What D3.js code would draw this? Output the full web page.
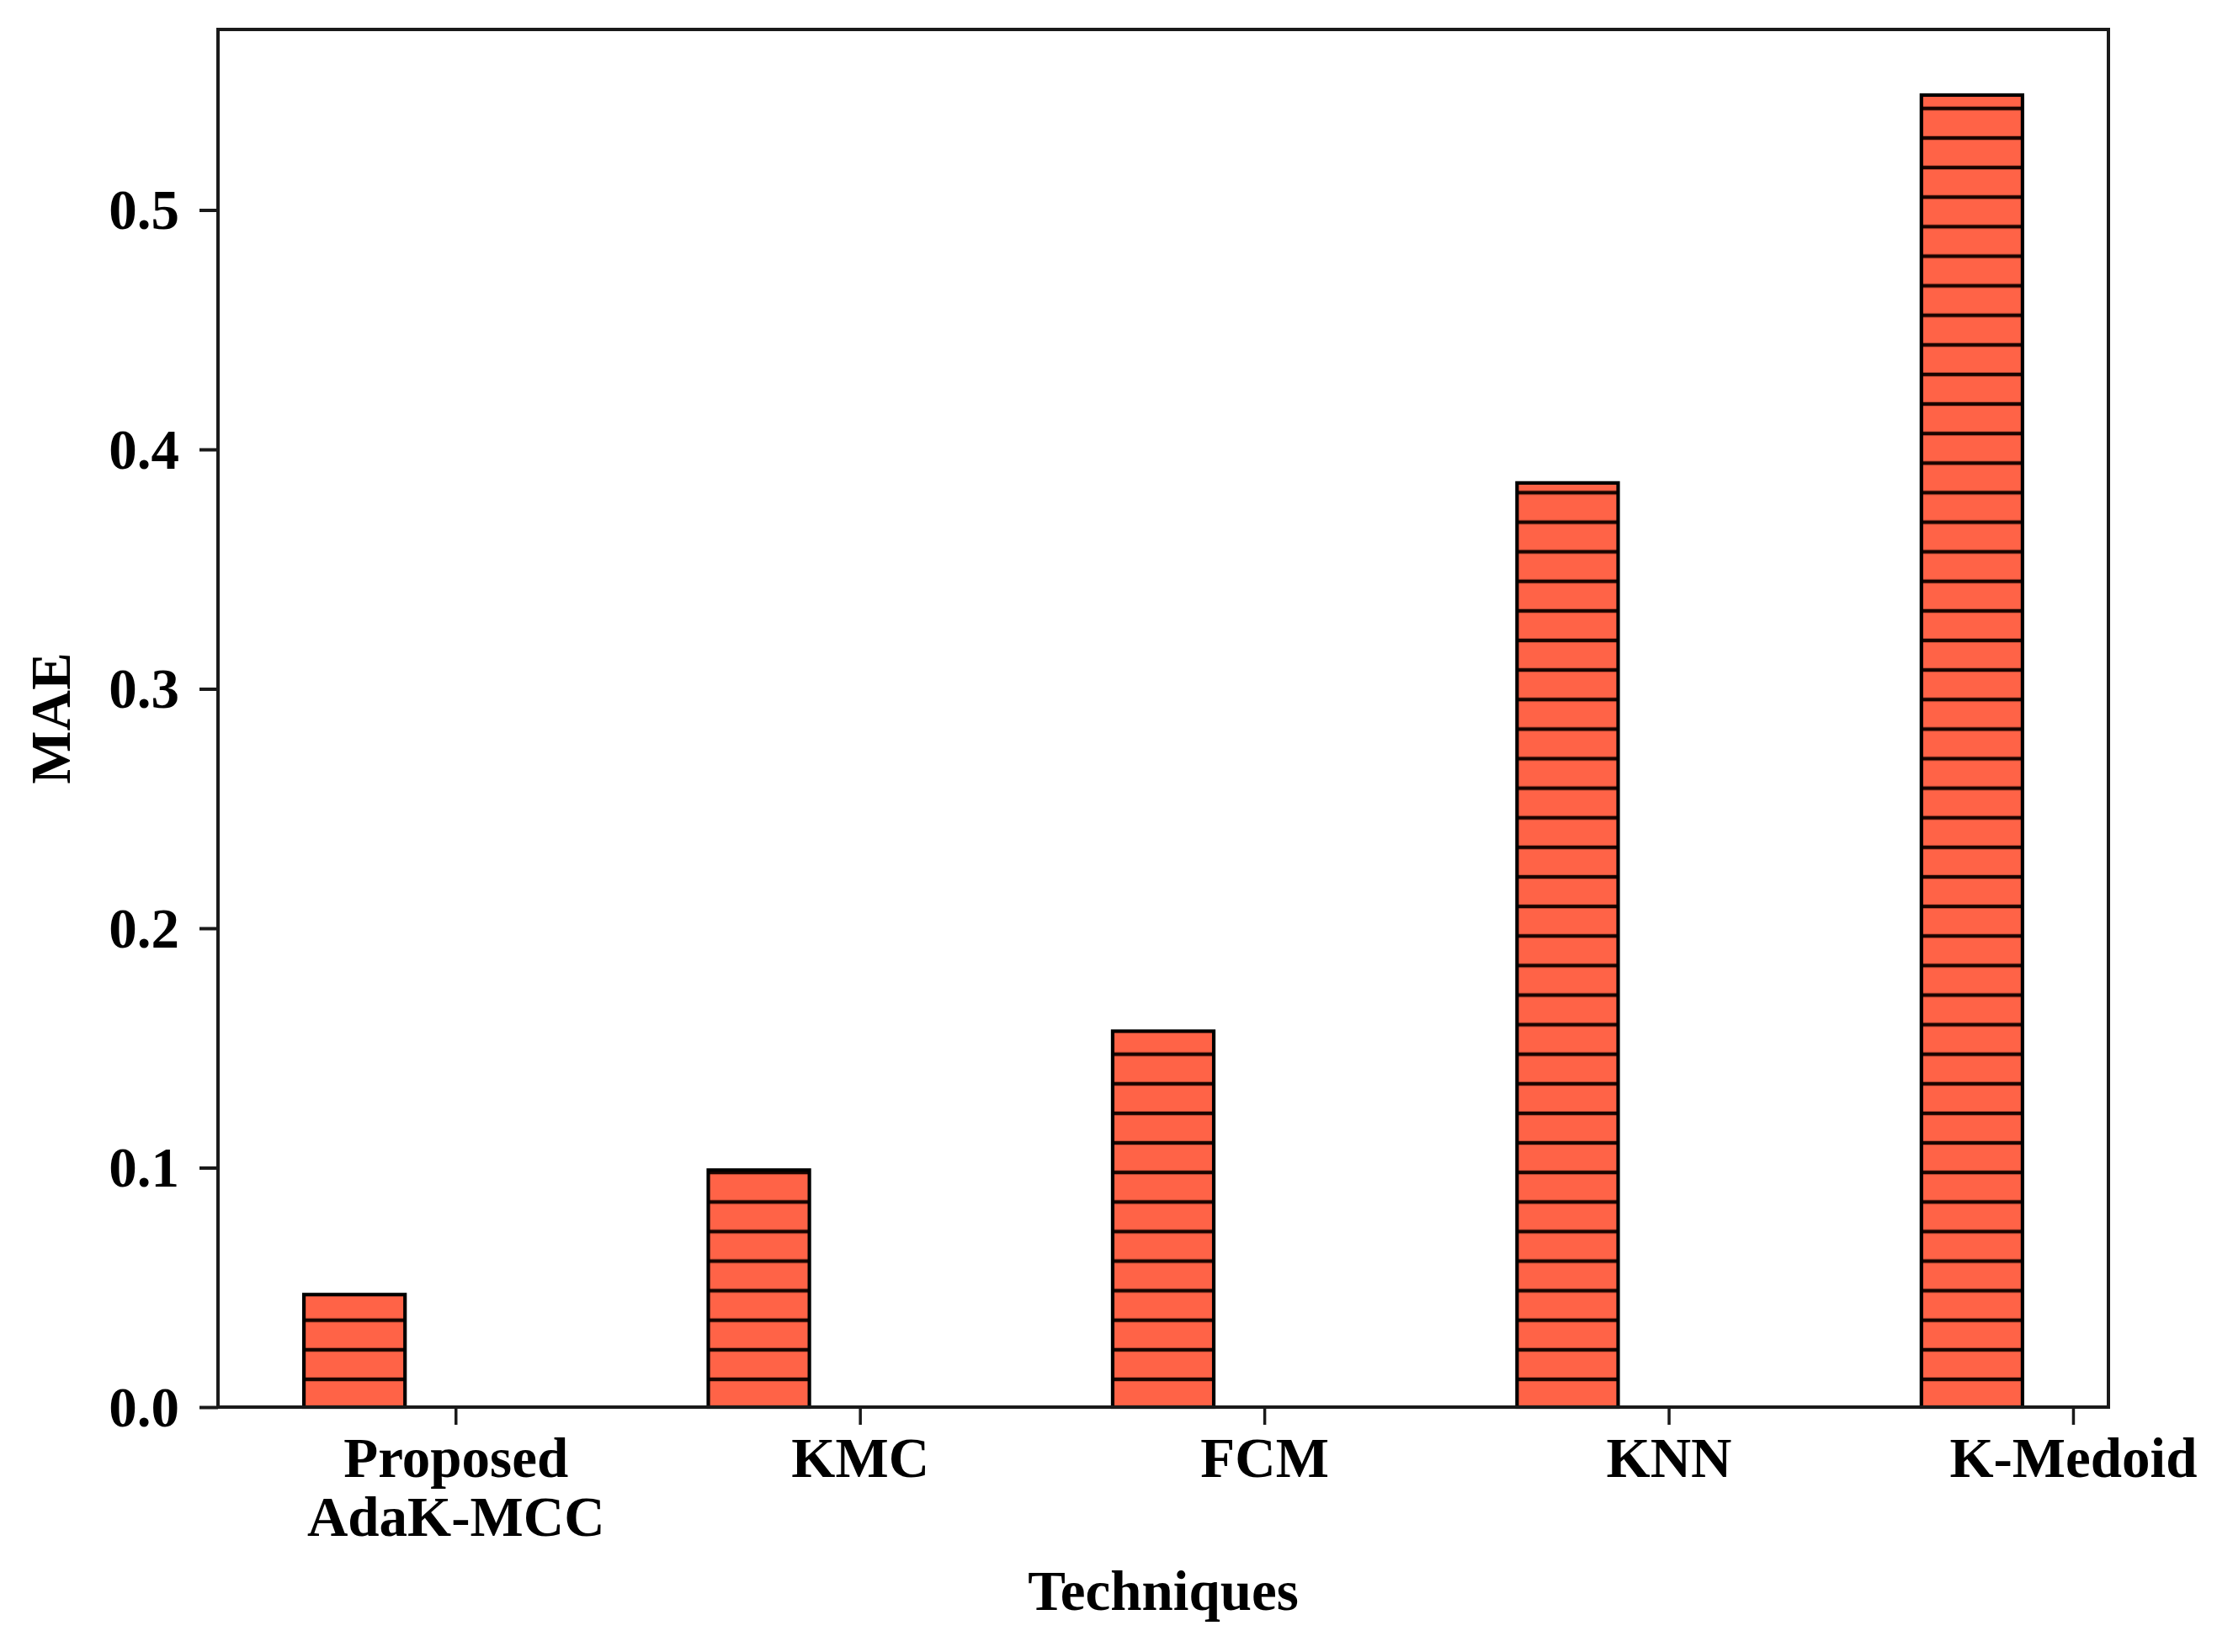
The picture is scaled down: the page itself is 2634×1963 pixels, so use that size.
<!DOCTYPE html>
<html>
<head>
<meta charset="utf-8">
<script src="https://cdn.jsdelivr.net/npm/d3@7"></script>
<style>
  html, body { margin: 0; padding: 0; background: #fff; }
  svg text { font-family: "Liberation Serif", "Times New Roman", serif; font-weight: bold; fill: #000; }
</style>
</head>
<body>
<svg id="chart" width="2634" height="1963"></svg>
<script>
// ---- data ----
const categories = [["Proposed", "AdaK-MCC"], ["KMC"], ["FCM"], ["KNN"], ["K-Medoid"]];
const maeValues = [0.047, 0.099, 0.157, 0.386, 0.548];
const yTicks = [0.0, 0.1, 0.2, 0.3, 0.4, 0.5];
const xTitle = "Techniques";
const yTitle = "MAE";

// ---- layout ----
const W = 2634, H = 1963;
const plot = { left: 259, right: 2505, top: 35, bottom: 1672 };
const barWidth = 0.25, barOffset = -0.25;
const fontSize = 67;

const svg = d3.select("#chart");

const xMin = barOffset - barWidth / 2, xMax = (categories.length - 1) + barOffset + barWidth / 2;
const xPad = 0.05 * (xMax - xMin);
const x = d3.scaleLinear().domain([xMin - xPad, xMax + xPad]).range([plot.left, plot.right]);
const y = d3.scaleLinear().domain([0, d3.max(maeValues) * 1.05]).range([plot.bottom, plot.top]);

// hatch pattern (horizontal lines, aligned to figure)
const hatchStep = 35.12;
const defs = svg.append("defs");
const pat = defs.append("pattern")
  .attr("id", "hatch")
  .attr("patternUnits", "userSpaceOnUse")
  .attr("x", 0).attr("y", 1639 - hatchStep / 2)
  .attr("width", 20).attr("height", hatchStep);
pat.append("line")
  .attr("x1", -5).attr("x2", 25)
  .attr("y1", hatchStep / 2).attr("y2", hatchStep / 2)
  .attr("stroke", "#1a0400").attr("stroke-width", 4.4);

// bars
const bars = svg.append("g");
bars.selectAll("rect.fill").data(maeValues).join("rect")
  .attr("class", "fill")
  .attr("x", (d, i) => x(i + barOffset - barWidth / 2))
  .attr("width", (d, i) => x(i + barOffset + barWidth / 2) - x(i + barOffset - barWidth / 2))
  .attr("y", d => y(d))
  .attr("height", d => y(0) - y(d))
  .attr("fill", "#FF6347");
bars.selectAll("rect.hatch").data(maeValues).join("rect")
  .attr("class", "hatch")
  .attr("x", (d, i) => x(i + barOffset - barWidth / 2))
  .attr("width", (d, i) => x(i + barOffset + barWidth / 2) - x(i + barOffset - barWidth / 2))
  .attr("y", d => y(d))
  .attr("height", d => y(0) - y(d))
  .attr("fill", "url(#hatch)")
  .attr("stroke", "#000")
  .attr("stroke-width", 4.2);

// frame
svg.append("rect")
  .attr("x", plot.left).attr("y", plot.top)
  .attr("width", plot.right - plot.left).attr("height", plot.bottom - plot.top)
  .attr("fill", "none").attr("stroke", "#1a1a1a").attr("stroke-width", 4);

// y axis
const yAxis = d3.axisLeft(y).tickValues(yTicks).tickFormat(d3.format(".1f")).tickSize(22).tickPadding(24).tickSizeOuter(0);
const gy = svg.append("g").attr("transform", `translate(${plot.left},0)`).call(yAxis);
gy.select(".domain").remove();
gy.selectAll(".tick line").attr("stroke", "#1a1a1a").attr("stroke-width", 4);
gy.selectAll(".tick text").attr("font-size", fontSize).attr("dy", "0.33em")
  .style("font-family", "'Liberation Serif', serif").style("font-weight", "bold");

// x axis
const xAxis = d3.axisBottom(x).tickValues(d3.range(categories.length)).tickFormat("").tickSize(21).tickSizeOuter(0);
const gx = svg.append("g").attr("transform", `translate(0,${plot.bottom})`).call(xAxis);
gx.select(".domain").remove();
gx.selectAll(".tick line").attr("stroke", "#1a1a1a").attr("stroke-width", 3.5);
gx.selectAll(".tick").each(function(d) {
  const t = d3.select(this).append("text")
    .attr("text-anchor", "middle")
    .attr("font-size", fontSize)
    .attr("y", 83);
  categories[d].forEach((line, k) => {
    t.append("tspan").attr("x", 0).attr("dy", k === 0 ? 0 : 70).text(line);
  });
});

// axis titles
svg.append("text")
  .attr("x", (plot.left + plot.right) / 2).attr("y", 1913)
  .attr("text-anchor", "middle").attr("font-size", fontSize)
  .text(xTitle);
svg.append("text")
  .attr("transform", `translate(83,${(plot.top + plot.bottom) / 2}) rotate(-90)`)
  .attr("text-anchor", "middle").attr("font-size", fontSize)
  .text(yTitle);
</script>
</body>
</html>
